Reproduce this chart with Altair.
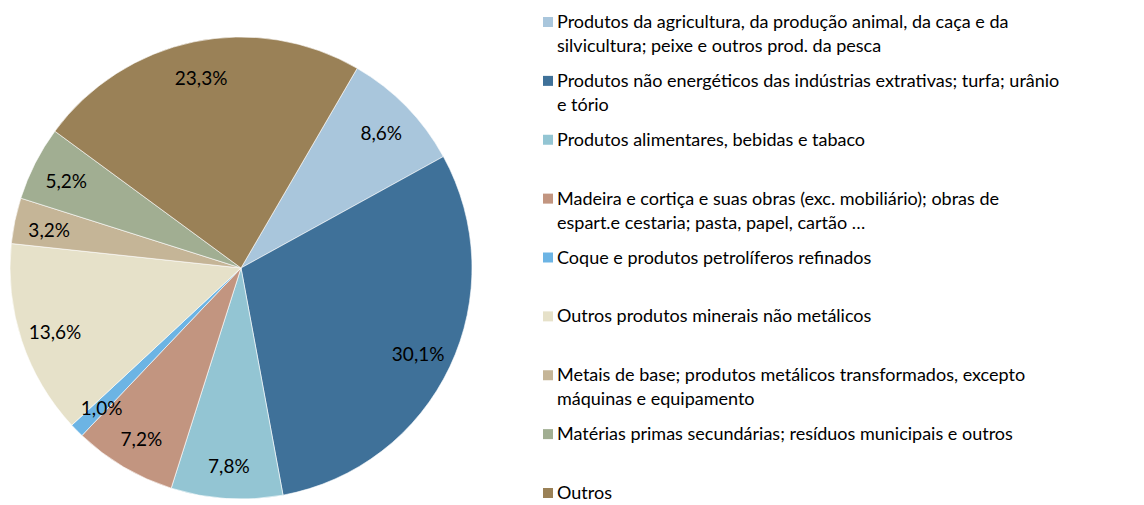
import altair as alt
import pandas as pd

categories = [
    "\u00a0Produtos da agricultura, da produção animal, da caça e da\nsilvicultura; peixe e outros prod. da pesca",
    "\u00a0Produtos não energéticos das indústrias extrativas; turfa; urânio\ne tório",
    "\u00a0Produtos alimentares, bebidas e tabaco",
    "\u00a0Madeira e cortiça e suas obras (exc. mobiliário); obras de\nespart.e cestaria; pasta, papel, cartão …",
    "\u00a0Coque e produtos petrolíferos refinados",
    "\u00a0Outros produtos minerais não metálicos",
    "\u00a0Metais de base; produtos metálicos transformados, excepto\nmáquinas e equipamento",
    "Matérias primas secundárias; resíduos municipais e outros",
    "\u00a0Outros",
]
values = [8.6, 30.1, 7.8, 7.2, 1.0, 13.6, 3.2, 5.2, 23.3]
labels = ["8,6%", "30,1%", "7,8%", "7,2%", "1,0%", "13,6%", "3,2%", "5,2%", "23,3%"]
colors = ["#A9C6DC", "#3F7199", "#93C5D3", "#C29580", "#6CB4E4",
          "#E6E1C9", "#C5B597", "#A1AE92", "#9A8157"]

df = pd.DataFrame({
    "cat": categories,
    "value": values,
    "label": labels,
    "idx": list(range(len(categories))),
})

FONT = "Lato"
start = 0.527
theta_scale = alt.Scale(range=[start, start + 6.283185307])
color_scale = alt.Scale(domain=categories, range=colors)

cx, cy, R = 233, 260, 231

base = alt.Chart(df)

pie = base.mark_arc(outerRadius=R, stroke="white", strokeWidth=0.6).encode(
    theta=alt.Theta("value:Q", stack=True, scale=theta_scale),
    color=alt.Color("cat:N", scale=color_scale, legend=None),
    order=alt.Order("idx:Q"),
    x=alt.value(cx),
    y=alt.value(cy),
)

pie_text = base.mark_text(radius=196, dy=3, font=FONT, fontSize=19, color="black").encode(
    theta=alt.Theta("value:Q", stack=True, scale=theta_scale),
    detail="cat:N",
    order=alt.Order("idx:Q"),
    text="label:N",
    x=alt.value(cx),
    y=alt.value(cy),
)

yscale = alt.Scale(domain=categories, range=[14, 485], padding=0)

leg_sq = base.mark_square(size=100, opacity=1).encode(
    x=alt.value(540),
    y=alt.Y("cat:N", scale=yscale, axis=None),
    color=alt.Color("cat:N", scale=color_scale, legend=None),
)

leg_text = base.mark_text(
    align="left", baseline="alphabetic", dy=6, font=FONT, fontSize=18,
    lineBreak="\n", lineHeight=24, color="black",
).encode(
    x=alt.value(549),
    y=alt.Y("cat:N", scale=yscale, axis=None),
    text="cat:N",
)

chart = alt.layer(pie, pie_text, leg_sq, leg_text).properties(
    width=1128, height=497, autosize=alt.AutoSizeParams(type="none"), padding=0,
).configure_view(stroke=None)

chart.save("out.html", embed_options={"renderer": "svg", "actions": False})
